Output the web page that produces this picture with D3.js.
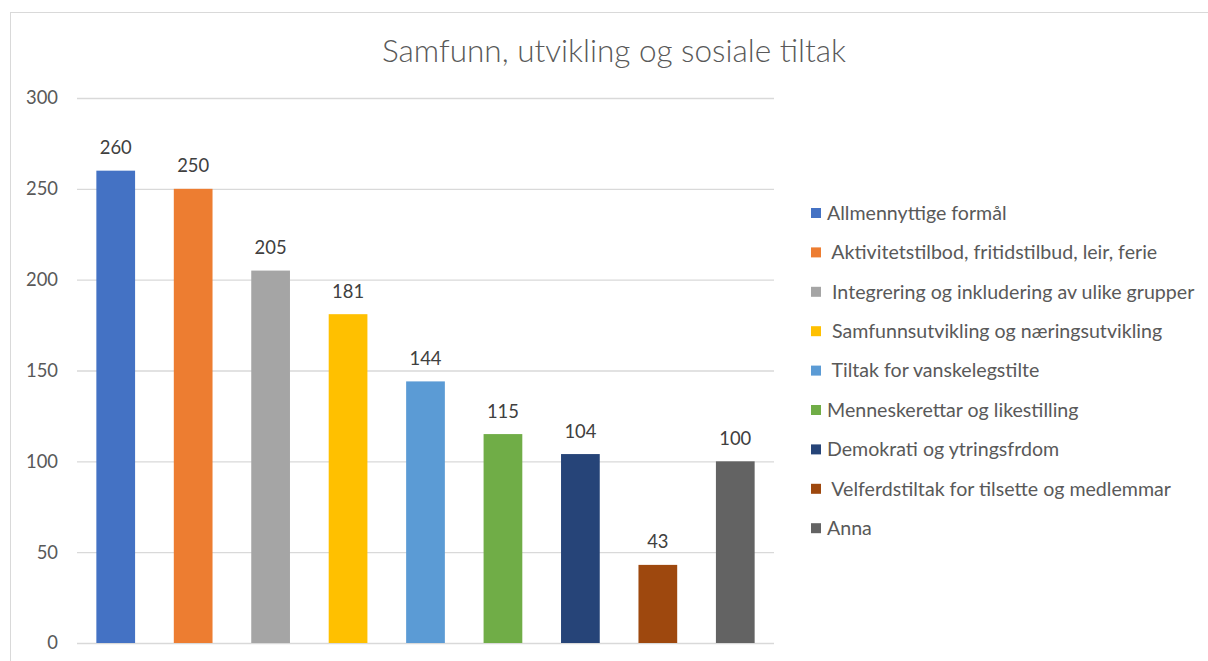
<!DOCTYPE html>
<html><head><meta charset="utf-8">
<script src="https://cdn.jsdelivr.net/npm/d3@7"></script>
<style>
html,body{margin:0;padding:0;background:#fff;}
svg text{font-family:Lato,"Open Sans",sans-serif;white-space:pre;}
</style></head>
<body>
<svg id="chart" width="1208" height="661"></svg>
<script>
const categories = ["Allmennyttige formål"," Aktivitetstilbod, fritidstilbud, leir, ferie"," Integrering og inkludering av ulike grupper"," Samfunnsutvikling og næringsutvikling"," Tiltak for vanskelegstilte","Menneskerettar og likestilling","Demokrati og ytringsfrdom"," Velferdstiltak for tilsette og medlemmar","Anna"];
const values = [260,250,205,181,144,115,104,43,100];
const colors = ["#4472C4","#ED7D31","#A5A5A5","#FFC000","#5B9BD5","#70AD47","#264478","#9E480E","#636363"];
const yTicks = [0,50,100,150,200,250,300];
const title = "Samfunn, utvikling og sosiale tiltak";

const svg = d3.select("#chart");
svg.append("rect").attr("x",10.5).attr("y",12.5).attr("width",1230).attr("height",700)
  .attr("fill","#fff").attr("stroke","#D9D9D9").attr("stroke-width",1);

const x = d3.scaleBand().domain(d3.range(categories.length)).range([77,774]).paddingInner(0.5).paddingOuter(0.25);
const y = d3.scaleLinear().domain([0,300]).range([643,98]);

svg.append("text").attr("x",614).attr("y",61.5).attr("text-anchor","middle")
  .attr("font-size",31.5).attr("font-weight",300).attr("fill","#595959").text(title);

const yAxis = d3.axisLeft(y).tickValues(yTicks).tickSize(-(774-77)).tickPadding(19);
const gy = svg.append("g").attr("transform","translate(77,0)").call(yAxis);
gy.select(".domain").remove();
gy.selectAll(".tick line").attr("stroke","#D9D9D9").attr("stroke-width",1.3);
gy.selectAll(".tick text").attr("font-size",18.4).attr("fill","#595959").style("font-family","Lato, sans-serif");

svg.append("g").selectAll("rect").data(values).join("rect")
  .attr("x",(d,i)=>x(i)).attr("width",x.bandwidth())
  .attr("y",d=>y(d)).attr("height",d=>y(0)-y(d))
  .attr("fill",(d,i)=>colors[i]);

svg.append("g").selectAll("text").data(values).join("text")
  .attr("x",(d,i)=>x(i)+x.bandwidth()/2).attr("y",d=>y(d)-16.5)
  .attr("text-anchor","middle").attr("font-size",18.4).attr("fill","#404040")
  .text(d=>d);

const lg = svg.append("g").attr("transform","translate(811,213)");
const items = lg.selectAll("g").data(categories).join("g")
  .attr("transform",(d,i)=>`translate(0,${i*39.4})`);
items.append("rect").attr("x",0).attr("y",-5).attr("width",10).attr("height",10)
  .attr("fill",(d,i)=>colors[i]);
items.append("text").attr("x",16).attr("y",0).attr("dy","0.35em")
  .attr("font-size",19.6).attr("fill","#595959").text(d=>d);
</script>
</body></html>
